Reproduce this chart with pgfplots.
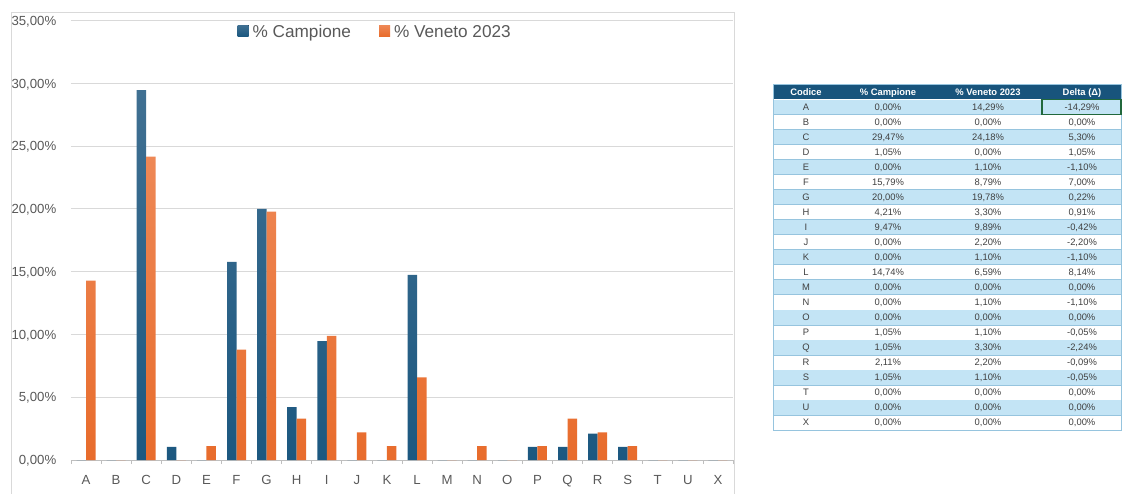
\documentclass[border=0pt]{standalone}
\usepackage{fontspec}
\setmainfont{Liberation Sans}
\usepackage{pgfplots}
\usepackage{pgfplotstable}
\pgfplotsset{compat=1.18}

\definecolor{campblue}{RGB}{28,88,128}
\definecolor{campbluetop}{RGB}{64,112,146}
\definecolor{venorange}{RGB}{232,108,44}
\definecolor{venorangetop}{RGB}{238,136,86}
\definecolor{gridgray}{RGB}{217,217,217}
\definecolor{axisgray}{RGB}{191,191,191}
\definecolor{txtgray}{RGB}{89,89,89}
\definecolor{hdrblue}{RGB}{24,84,124}
\definecolor{rowblue}{RGB}{195,228,245}
\definecolor{rowline}{RGB}{150,196,222}
\definecolor{selgreen}{RGB}{33,104,60}
\definecolor{celltext}{RGB}{64,64,64}

% Percent shares by ATECO section: sample vs. Veneto 2023
\pgfplotstableread{
code camp ven delta
A 0.00 14.29 -14.29
B 0.00 0.00 0.00
C 29.47 24.18 5.30
D 1.05 0.00 1.05
E 0.00 1.10 -1.10
F 15.79 8.79 7.00
G 20.00 19.78 0.22
H 4.21 3.30 0.91
I 9.47 9.89 -0.42
J 0.00 2.20 -2.20
K 0.00 1.10 -1.10
L 14.74 6.59 8.14
M 0.00 0.00 0.00
N 0.00 1.10 -1.10
O 0.00 0.00 0.00
P 1.05 1.10 -0.05
Q 1.05 3.30 -2.24
R 2.11 2.20 -0.09
S 1.05 1.10 -0.05
T 0.00 0.00 0.00
U 0.00 0.00 0.00
X 0.00 0.00 0.00
}\datatable

\newcommand\pct[1]{\pgfmathprintnumber[fixed,fixed zerofill,precision=2,use comma,assume math mode=true]{#1}\%}

\begin{document}
\begin{tikzpicture}
\path[use as bounding box] (0,0) rectangle (561pt,246.5pt);

\begin{axis}[
  at={(35.5pt,16.5pt)}, anchor=south west,
  scale only axis, width=331pt, height=219.65pt,
  xmin=-0.5, xmax=21.5, ymin=0, ymax=35,
  axis line style={draw=none},
  ybar=0pt, bar width=4.75pt,
  xtick={0,...,21},
  xticklabels from table={\datatable}{code},
  xtick style={draw=none},
  xtick pos=lower,
  ytick={0,5,...,35},
  ytick style={draw=none},
  ymajorgrids, major grid style={gridgray, line width=0.5pt},
  yticklabel={\pct{\tick}},
  tick label style={font=\fontsize{6.6}{7.6}\selectfont, text=txtgray},
  yticklabel style={anchor=base east, inner sep=0pt, xshift=-7.15pt, yshift=-2.36pt},
  xticklabel style={anchor=north, inner sep=0pt, yshift=-3pt},
  extra x ticks={-0.5,0.5,...,21.5},
  extra x tick labels={},
  extra x tick style={grid=none, tick align=outside, major tick length=2pt,
    xtick style={draw=axisgray, line width=0.4pt}},
  extra y ticks={0},
  extra y tick labels={},
  extra y tick style={major grid style={axisgray, line width=0.5pt}},
  legend style={at={(0.461,0.972)}, anchor=center, draw=none, fill=none,
    font=\fontsize{8.6}{9.6}\selectfont, text=txtgray,
    /tikz/every even column/.append style={column sep=12pt}},
  legend columns=2,
  legend image code/.code={\fill[#1] (0pt,-1.6pt) rectangle (5.5pt,3.9pt);},
]
\addplot[draw=none, top color=campbluetop, bottom color=campblue]
  table[x expr=\coordindex, y=camp] {\datatable};
\addplot[draw=none, top color=venorangetop, bottom color=venorange]
  table[x expr=\coordindex, y=ven] {\datatable};
\legend{\% Campione, \% Veneto 2023}
\end{axis}

% chart frame and summary table, laid out in pixel units
\begin{scope}[x=0.5pt, y=-0.5pt, yshift=246.5pt]
  \draw[gridgray, line width=0.5pt] (11,500) -- (11,13) -- (734,13) -- (734,500);

  % header
  \fill[hdrblue] (773,84.5) rectangle (1121.5,99.5);
  \begin{scope}[every node/.style={anchor=base, inner sep=0pt, text=white,
      font=\fontsize{4.7}{5}\selectfont\bfseries}]
    \node at (806,95.5) {Codice};
    \node at (888,95.5) {\% Campione};
    \node at (988,95.5) {\% Veneto 2023};
    \node at (1082,95.5) {Delta (Δ)};
  \end{scope}

  \foreach \i in {0,...,21}{
    \pgfmathsetmacro\ytop{84.5+15.02*(\i+1)}
    \pgfmathsetmacro\ybot{\ytop+15.02}
    \pgfmathsetmacro\ybase{\ytop+11}
    \pgfmathtruncatemacro\odd{mod(\i,2)}
    \ifnum\odd=0 \fill[rowblue] (773,\ytop) rectangle (1121.5,\ybot); \fi
    \draw[rowline, line width=0.3pt] (773,\ybot) -- (1121.5,\ybot);
    \begin{scope}[every node/.style={anchor=base, inner sep=0pt, text=celltext,
        font=\fontsize{4.7}{5}\selectfont}]
      \pgfplotstablegetelem{\i}{code}\of\datatable
      \node at (806,\ybase) {\pgfplotsretval};
      \pgfplotstablegetelem{\i}{camp}\of\datatable
      \node at (888,\ybase) {\pct{\pgfplotsretval}};
      \pgfplotstablegetelem{\i}{ven}\of\datatable
      \node at (988,\ybase) {\pct{\pgfplotsretval}};
      \pgfplotstablegetelem{\i}{delta}\of\datatable
      \node at (1082,\ybase) {\pct{\pgfplotsretval}};
    \end{scope}
  }
  \draw[rowline, line width=0.5pt] (773,84.5) rectangle (1121.5,430);
  \draw[selgreen, line width=0.8pt] (1042,99.52) rectangle (1121,114.54);
\end{scope}
\end{tikzpicture}
\end{document}
